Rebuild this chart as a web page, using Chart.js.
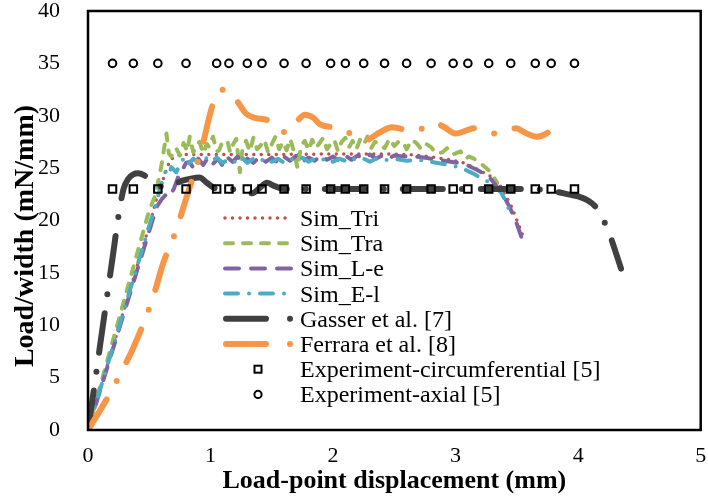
<!DOCTYPE html>
<html><head><meta charset="utf-8">
<script src="https://cdn.jsdelivr.net/npm/chart.js@4.4.1/dist/chart.umd.min.js"></script>
<style>html,body{margin:0;padding:0;background:#fff}#wrap{width:708px;height:499px}</style>
</head><body><div id="wrap"><canvas id="c" width="708" height="499"></canvas></div>
<script>
// ---------- data ----------
const seriesLabels = ["Sim_Tri","Sim_Tra","Sim_L-e","Sim_E-l","Gasser et al. [7]","Ferrara et al. [8]","Experiment-circumferential [5]","Experiment-axial [5]"];
const xTitle = "Load-point displacement (mm)";
const yTitle = "Load/width (mN/mm)";
const xTicks = [0,1,2,3,4,5];
const yTicks = [0,5,10,15,20,25,30,35,40];

const simTri = [[0,0],[0.1,3.9],[0.2,7.8],[0.3,11.7],[0.4,15.6],[0.5,19.5],[0.56,22.1],[0.59,23.1],[0.63,24.5],[0.67,25.8],[0.75,26.3],[1.0,26.3],[1.5,26.3],[2.0,26.35],[2.4,26.35],[2.62,26.3],[2.79,26.1],[2.95,25.8],[3.07,25.5],[3.19,24.8],[3.29,24.2],[3.36,23.4],[3.45,21.5],[3.55,18.5]];

const simTra = [[0,0],[0.1,4.2],[0.2,8.4],[0.3,12.6],[0.4,16.8],[0.5,21],[0.55,22.4],[0.6,25.3],[0.64,28.3],[0.66,26.4],[0.68,26.1],[0.72,26.9],[0.75,26.2],[0.78,27.4],[0.81,26.6],[0.83,28.0],[0.86,26.5],[0.88,27.2],[0.91,27.5],[0.94,26.4],[0.97,27.3],[0.99,27.0],[1.02,28.0],[1.05,26.6],[1.07,26.7],[1.1,27.6],[1.14,27.5],[1.16,26.5],[1.18,27.2],[1.21,27.8],[1.24,24.6],[1.26,26.8],[1.29,27.6],[1.32,26.6],[1.35,27.9],[1.38,26.8],[1.41,27.2],[1.44,27.7],[1.47,26.5],[1.5,27.3],[1.53,28.0],[1.56,26.8],[1.59,27.5],[1.62,26.7],[1.65,27.8],[1.68,26.6],[1.71,25.0],[1.74,27.2],[1.77,27.6],[1.8,26.7],[1.83,27.7],[1.86,26.9],[1.89,27.4],[1.92,27.9],[1.95,26.8],[1.98,27.3],[2.01,27.7],[2.04,26.6],[2.07,27.5],[2.1,27.9],[2.13,27.0],[2.16,27.6],[2.19,26.8],[2.22,27.7],[2.25,27.2],[2.28,28.0],[2.31,26.9],[2.34,27.5],[2.38,27.4],[2.42,26.9],[2.46,27.8],[2.5,27.1],[2.54,27.6],[2.57,27.5],[2.6,26.8],[2.64,27.7],[2.68,27.4],[2.72,26.8],[2.76,27.3],[2.8,27.0],[2.84,26.4],[2.89,26.5],[2.93,26.9],[2.97,26.3],[3.0,26.4],[3.04,26.6],[3.08,25.9],[3.11,26.1],[3.15,25.9],[3.19,25.6],[3.23,25.2],[3.27,24.8],[3.3,24.3],[3.34,23.6]];

const simLe = [[0,0],[0.1,3.8],[0.2,7.6],[0.3,11.4],[0.4,15.2],[0.5,19.0],[0.56,21.3],[0.6,22.0],[0.63,22.4],[0.66,22.2],[0.7,23.0],[0.74,24.3],[0.77,24.8],[0.8,25.5],[0.83,25.6],[0.86,25.0],[0.9,25.9],[0.94,25.3],[0.98,26.0],[1.02,25.4],[1.06,25.9],[1.1,25.2],[1.14,26.0],[1.18,25.6],[1.22,26.1],[1.26,25.4],[1.3,25.9],[1.35,25.5],[1.4,26.1],[1.45,25.6],[1.5,26.0],[1.55,25.5],[1.6,26.1],[1.65,25.7],[1.7,26.2],[1.75,25.6],[1.8,26.0],[1.85,25.7],[1.9,26.2],[1.95,25.8],[2.0,26.1],[2.05,25.7],[2.1,26.2],[2.15,25.8],[2.2,26.2],[2.25,25.9],[2.3,26.3],[2.35,25.9],[2.4,26.2],[2.45,25.9],[2.5,26.2],[2.57,26.1],[2.62,26.2],[2.68,26.1],[2.75,26.0],[2.84,25.8],[2.9,25.7],[2.96,25.6],[3.02,25.5],[3.09,25.3],[3.18,24.8],[3.27,24.2],[3.34,23.2],[3.38,22.6],[3.44,21.3],[3.49,20.0],[3.54,18.3]];

const simEl = [[0,0],[0.1,3.9],[0.2,7.8],[0.3,11.7],[0.4,15.6],[0.5,19.5],[0.55,21.4],[0.6,23.5],[0.63,24.6],[0.66,24.3],[0.68,25.1],[0.72,24.6],[0.76,25.6],[0.79,26.0],[0.82,25.4],[0.86,25.9],[0.9,25.5],[0.95,26.1],[1.0,25.6],[1.05,26.0],[1.1,25.5],[1.15,25.9],[1.2,25.6],[1.25,26.1],[1.3,25.5],[1.35,25.9],[1.4,25.6],[1.45,26.0],[1.5,25.6],[1.55,25.9],[1.6,25.5],[1.65,25.9],[1.7,25.7],[1.75,26.0],[1.8,25.6],[1.85,25.9],[1.9,25.7],[1.95,26.0],[2.0,25.6],[2.05,25.9],[2.1,25.7],[2.15,26.0],[2.2,25.7],[2.25,25.9],[2.3,25.6],[2.35,25.9],[2.4,25.7],[2.5,25.9],[2.6,25.7],[2.7,25.8],[2.8,25.6],[2.95,25.3],[3.05,25.0],[3.14,24.5],[3.25,23.8],[3.32,23.2],[3.37,22.7],[3.41,21.8],[3.46,20.3]];

const gasser = [[0,0],[0.05,4.0],[0.1,8.2],[0.15,12.3],[0.2,16.4],[0.25,20.5],[0.29,23.0],[0.33,24.0],[0.37,24.4],[0.41,24.5],[0.46,24.3],[0.52,23.8],[0.58,23.3],[0.65,23.2],[0.71,23.5],[0.77,23.8],[0.84,24.0],[0.91,24.1],[0.97,23.6],[1.03,23.1],[1.1,22.9],[1.2,23.0],[1.27,22.8],[1.34,22.6],[1.4,23.1],[1.46,23.6],[1.52,23.3],[1.6,23.0],[2.0,23.0],[2.5,23.0],[3.0,23.0],[3.4,23.0],[3.6,23.0],[3.75,22.9],[3.84,22.7],[3.92,22.5],[4.0,22.3],[4.08,21.9],[4.15,21.2],[4.2,20.2],[4.25,18.9],[4.3,17.2],[4.35,15.4]];

const ferrara = [[0,0],[0.1,1.9],[0.18,3.5],[0.27,5.5],[0.36,7.6],[0.49,11.3],[0.55,13.4],[0.61,15.8],[0.72,19.1],[0.79,21.7],[0.85,23.9],[0.95,27.9],[0.99,29.9],[1.05,32.1],[1.12,32.5],[1.18,32.0],[1.24,31.0],[1.29,30.2],[1.36,29.8],[1.46,29.6],[1.55,28.8],[1.62,28.4],[1.7,29.4],[1.77,30.1],[1.84,29.8],[1.89,29.2],[2.05,28.8],[2.21,27.9],[2.27,27.7],[2.38,28.4],[2.48,28.9],[2.66,28.5],[2.83,29.3],[2.91,28.9],[3.0,28.3],[3.09,28.6],[3.15,28.8],[3.32,28.3],[3.49,28.8],[3.58,28.3],[3.66,28.0],[3.74,28.3],[3.8,28.9]];

const expX = [0.2,0.37,0.57,0.8,1.05,1.15,1.3,1.42,1.6,1.78,1.98,2.1,2.25,2.42,2.6,2.8,2.98,3.1,3.27,3.45,3.65,3.78,3.97];
const expCirc = [23,23,23,23,23,23,23,23,23,23,23,23,23,23,23,23,23,23,23,23,23,23,23];
const expAxial = [35,35,35,35,35,35,35,35,35,35,35,35,35,35,35,35,35,35,35,35,35,35,35];

// ---------- chart ----------
const pts = arr => arr.map(p => ({x:p[0], y:p[1]}));
const zip = (xs, ys) => xs.map((x,i) => ({x, y:ys[i]}));

const colors = ['#C0504D','#9BBB59','#8064A2','#4BACC6','#404040','#F79646','#000','#000'];
const dashes = [[0,7.5],[8,10],[14,12],[13,11,0,11],[40,19,0,19],[36,21,0,21],null,null];
const widths = [3.5,4,4,4,6,6,2,2];
const serif = '"Liberation Serif","Times New Roman",serif';

function lineDs(i, data, extra){
  return Object.assign({
    label: seriesLabels[i], data: pts(data), showLine: true, pointRadius: 0,
    borderColor: colors[i], borderWidth: widths[i], borderDash: dashes[i],
    borderCapStyle: 'round', borderJoinStyle: 'round', fill: false, order: 10 - i
  }, extra || {});
}

const datasets = [
  lineDs(0, simTri),
  lineDs(1, simTra),
  lineDs(2, simLe),
  lineDs(3, simEl),
  lineDs(4, gasser, {cubicInterpolationMode:'monotone'}),
  lineDs(5, ferrara, {cubicInterpolationMode:'monotone'}),
  {label: seriesLabels[6], data: zip(expX, expCirc), showLine:false, pointStyle:'rect', pointRadius:5.3,
   pointBorderColor:'#000', pointBackgroundColor:'rgba(0,0,0,0)', pointBorderWidth:2, order: 2},
  {label: seriesLabels[7], data: zip(expX, expAxial), showLine:false, pointStyle:'circle', pointRadius:3.8,
   pointBorderColor:'#000', pointBackgroundColor:'rgba(0,0,0,0)', pointBorderWidth:2, order: 1}
];

const overlay = {
  id: 'overlay',
  afterDraw(chart){
    const {ctx, chartArea:a} = chart;
    ctx.save();
    ctx.strokeStyle = '#000'; ctx.lineWidth = 2.5; ctx.setLineDash([]);
    ctx.strokeRect(a.left, a.top, a.right - a.left, a.bottom - a.top);
    ctx.fillStyle = '#000';
    ctx.textAlign = 'center'; ctx.textBaseline = 'middle';
    ctx.font = 'bold 26px ' + serif;
    ctx.fillText(xTitle, (a.left + a.right)/2, 481);
    ctx.save();
    ctx.translate(26, 236); ctx.rotate(-Math.PI/2);
    ctx.font = 'bold 28px ' + serif;
    ctx.fillText(yTitle, 0, 0);
    ctx.restore();
    // legend
    ctx.textAlign = 'left'; ctx.textBaseline = 'alphabetic';
    ctx.font = '24px ' + serif;
    for (let i = 0; i < seriesLabels.length; i++){
      const base = 226 + 25.2*i, cy = base - 8;
      ctx.save();
      ctx.strokeStyle = colors[i]; ctx.fillStyle = colors[i];
      ctx.lineCap = 'round';
      if (i < 4){
        ctx.lineWidth = widths[i]; ctx.setLineDash(dashes[i]);
        ctx.beginPath(); ctx.moveTo(225, cy); ctx.lineTo(292, cy); ctx.stroke();
      } else if (i < 6){
        ctx.lineWidth = widths[i]; ctx.setLineDash([]);
        ctx.beginPath(); ctx.moveTo(226, cy); ctx.lineTo(266, cy); ctx.stroke();
        ctx.beginPath(); ctx.arc(290, cy, 3, 0, Math.PI*2); ctx.fill();
      } else if (i === 6){
        ctx.lineWidth = 2; ctx.strokeStyle = '#000';
        ctx.strokeRect(258-3.5, cy-3.5, 7, 7);
      } else {
        ctx.lineWidth = 2; ctx.strokeStyle = '#000';
        ctx.beginPath(); ctx.arc(258, cy, 3.6, 0, Math.PI*2); ctx.stroke();
      }
      ctx.restore();
      ctx.fillStyle = '#000';
      ctx.fillText(seriesLabels[i], 300, base);
    }
    ctx.restore();
  }
};

new Chart(document.getElementById('c'), {
  type: 'scatter',
  data: { datasets },
  options: {
    responsive: false, animation: false, devicePixelRatio: 1,
    layout: { padding: { left: 0, right: 6, top: 11, bottom: 0 } },
    plugins: { legend: { display: false }, tooltip: { enabled: false } },
    scales: {
      x: {
        type: 'linear', min: 0, max: 5,
        afterBuildTicks: s => { s.ticks = xTicks.map(v => ({value: v})); },
        afterFit: s => { s.height = 69; s.paddingLeft = 0; s.paddingRight = 0; },
        grid: { display: false }, border: { display: false },
        ticks: { color: '#000', font: { family: serif, size: 22 }, padding: 5, maxRotation: 0 }
      },
      y: {
        type: 'linear', min: 0, max: 40,
        afterBuildTicks: s => { s.ticks = yTicks.map(v => ({value: v})); },
        afterFit: s => { s.width = 88; s.paddingTop = 0; s.paddingBottom = 0; },
        grid: { display: false }, border: { display: false },
        ticks: { color: '#000', font: { family: serif, size: 22 }, padding: 20 }
      }
    }
  },
  plugins: [overlay]
});
</script>
</body></html>
